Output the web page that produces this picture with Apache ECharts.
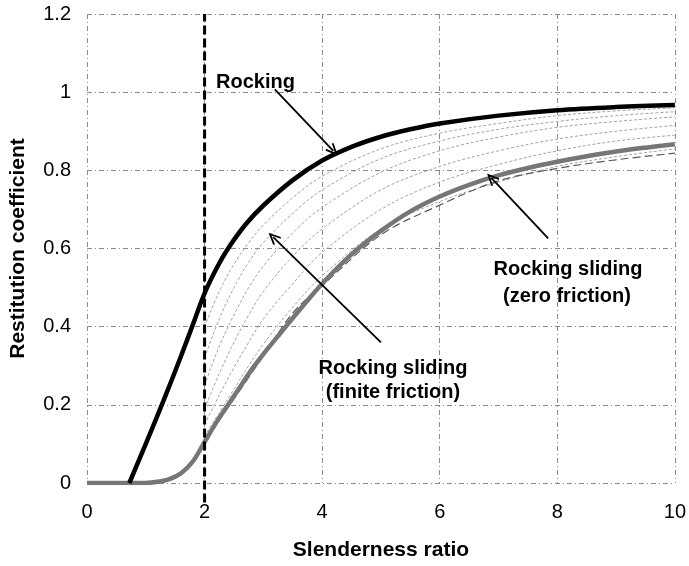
<!DOCTYPE html>
<html>
<head>
<meta charset="utf-8">
<script src="https://cdn.jsdelivr.net/npm/echarts@6/dist/echarts.min.js"></script>
<style>
  html, body { margin: 0; padding: 0; background: #fff; }
  #chart { width: 689px; height: 566px; }
</style>
</head>
<body>
<div id="chart"></div>
<script>
// Axis ticks
const xTicks = [0, 2, 4, 6, 8, 10];
const yTicks = [0, 0.2, 0.4, 0.6, 0.8, 1, 1.2];

// Pure rocking
const rockingX = [0.72, 1.0, 1.3, 1.6, 1.8, 2.0, 2.2, 2.4, 2.7, 3.0, 3.5, 4.0, 4.5, 5.0, 5.5, 6.0, 7.0, 8.0, 9.0, 10.0];
const rockingY = [0, 0.10, 0.21, 0.325, 0.405, 0.485, 0.548, 0.600, 0.662, 0.710, 0.775, 0.825, 0.860, 0.886, 0.905, 0.920, 0.940, 0.954, 0.962, 0.967];

// Rocking sliding, zero friction
const zeroX = [0, 1.0, 1.2, 1.4, 1.6, 1.8, 2.0, 2.2, 2.4, 2.6, 2.8, 3.0, 3.3, 3.6, 4.0, 4.5, 5.0, 5.5, 6.0, 6.5, 7.0, 7.5, 8.0, 8.5, 9.0, 9.5, 10.0];
const zeroY = [0, 0, 0.003, 0.010, 0.025, 0.055, 0.105, 0.155, 0.200, 0.245, 0.290, 0.330, 0.385, 0.440, 0.510, 0.585, 0.645, 0.695, 0.733, 0.763, 0.787, 0.806, 0.822, 0.836, 0.848, 0.858, 0.867];

// Rocking sliding, finite friction (one curve per friction coefficient)
const finiteX = [2.0, 2.25, 2.5, 2.75, 3.0, 3.5, 4.0, 5.0, 6.0, 7.0, 8.0, 9.0, 10.0];
const finite1 = [0.40, 0.49, 0.56, 0.615, 0.66, 0.73, 0.785, 0.855, 0.895, 0.920, 0.940, 0.952, 0.960];
const finite2 = [0.32, 0.42, 0.50, 0.565, 0.615, 0.69, 0.750, 0.830, 0.875, 0.905, 0.925, 0.940, 0.950];
const finite3 = [0.25, 0.35, 0.43, 0.50, 0.555, 0.64, 0.705, 0.795, 0.850, 0.885, 0.910, 0.925, 0.937];
const finite4 = [0.19, 0.28, 0.36, 0.43, 0.49, 0.58, 0.650, 0.750, 0.810, 0.850, 0.880, 0.900, 0.915];
const finite5 = [0.15, 0.225, 0.295, 0.36, 0.42, 0.51, 0.590, 0.700, 0.770, 0.815, 0.850, 0.875, 0.890];
const finite6 = [0.12, 0.18, 0.24, 0.30, 0.355, 0.45, 0.530, 0.650, 0.720, 0.770, 0.810, 0.835, 0.855];
const finite7 = [0.105, 0.16, 0.215, 0.27, 0.325, 0.435, 0.505, 0.635, 0.711, 0.773, 0.805, 0.827, 0.844];

// Limit slenderness marker
const limitX = [2, 2];
const limitY = [-0.05, 1.2];

// Annotation arrows: [fromX, fromY, toX, toY]
const arrowRocking = [3.195, 1.007, 4.19, 0.850];
const arrowFinite = [5.0, 0.36, 3.167, 0.629];
const arrowZero = [7.845, 0.626, 6.881, 0.780];

const pairs = (xs, ys) => xs.map((x, i) => [x, ys[i]]);
const FONT = '"Liberation Sans", Arial, Helvetica, sans-serif';
const chevron = 'path://M6,0 L12,12 L10.4,13.2 L6,4.2 L1.6,13.2 L0,12 Z';
const SMOOTH = 0.35;

const arrowLine = a => [
  { coord: [a[0], a[1]] },
  { coord: [a[2], a[3]] }
];

const finiteSeries = [finite1, finite2, finite3, finite4, finite5, finite6].map((ys, i) => ({
  name: 'finite' + (i + 1),
  type: 'line',
  data: pairs(finiteX, ys),
  smooth: SMOOTH,
  showSymbol: false,
  silent: true,
  z: 2,
  lineStyle: { color: '#a3a3a3', width: 1, type: [3, 2] }
}));

const chart = echarts.init(document.getElementById('chart'), null, { renderer: 'canvas' });

chart.setOption({
  animation: false,
  backgroundColor: '#ffffff',
  grid: { left: 86, right: 12, top: 14, bottom: 83, containLabel: false },
  xAxis: {
    type: 'value',
    min: xTicks[0],
    max: xTicks[xTicks.length - 1],
    interval: xTicks[1] - xTicks[0],
    name: 'Slenderness ratio',
    nameLocation: 'middle',
    nameGap: 57,
    nameTextStyle: { fontFamily: FONT, fontSize: 21, fontWeight: 'bold', color: '#000' },
    axisLine: { show: false },
    axisTick: { show: false },
    axisLabel: { fontFamily: FONT, fontSize: 20, color: '#000', margin: 19 },
    splitLine: { show: true, lineStyle: { color: '#8a8a8a', width: 1, type: [5, 3, 1, 3] } }
  },
  yAxis: {
    type: 'value',
    min: yTicks[0],
    max: yTicks[yTicks.length - 1],
    interval: 0.2,
    name: 'Restitution coefficient',
    nameLocation: 'middle',
    nameGap: 58,
    nameTextStyle: { fontFamily: FONT, fontSize: 21, fontWeight: 'bold', color: '#000' },
    axisLine: { show: false },
    axisTick: { show: false },
    axisLabel: {
      fontFamily: FONT, fontSize: 20, color: '#000', margin: 16,
      formatter: v => String(Math.round(v * 10) / 10)
    },
    splitLine: { show: true, lineStyle: { color: '#8a8a8a', width: 1, type: [5, 3, 1, 3] } }
  },
  series: [
    ...finiteSeries,
    {
      name: 'finite7',
      type: 'line',
      data: pairs(finiteX, finite7),
      smooth: SMOOTH,
      showSymbol: false,
      silent: true,
      z: 2,
      lineStyle: { color: '#5a5a5a', width: 1.2, type: [8, 4] }
    },
    {
      name: 'Rocking sliding (zero friction)',
      type: 'line',
      data: pairs(zeroX, zeroY),
      smooth: SMOOTH,
      showSymbol: false,
      silent: true,
      z: 3,
      lineStyle: { color: '#767676', width: 4.5 }
    },
    {
      name: 'Rocking',
      type: 'line',
      data: pairs(rockingX, rockingY),
      smooth: SMOOTH,
      showSymbol: false,
      silent: true,
      z: 4,
      lineStyle: { color: '#000', width: 4.5 },
      markLine: {
        silent: true,
        symbol: ['none', chevron],
        symbolSize: [11, 13],
        label: { show: false },
        emphasis: { disabled: true },
        lineStyle: { color: '#000', width: 1.8, type: 'solid' },
        data: [arrowLine(arrowRocking), arrowLine(arrowFinite), arrowLine(arrowZero)]
      }
    },
    {
      name: 'limit',
      type: 'line',
      data: pairs(limitX, limitY),
      clip: false,
      showSymbol: false,
      silent: true,
      z: 5,
      lineStyle: { color: '#000', width: 3, type: [9, 4] }
    }
  ],
  graphic: [
    { type: 'text', x: 216, y: 82, z: 10,
      style: { text: 'Rocking', font: 'bold 20px ' + FONT, fill: '#000',
               textAlign: 'left', textVerticalAlign: 'middle', align: 'left', verticalAlign: 'middle' } },
    { type: 'text', x: 568, y: 269, z: 10,
      style: { text: 'Rocking sliding', font: 'bold 20px ' + FONT, fill: '#000',
               textAlign: 'center', textVerticalAlign: 'middle', align: 'center', verticalAlign: 'middle' } },
    { type: 'text', x: 567, y: 296, z: 10,
      style: { text: '(zero friction)', font: 'bold 20px ' + FONT, fill: '#000',
               textAlign: 'center', textVerticalAlign: 'middle', align: 'center', verticalAlign: 'middle' } },
    { type: 'text', x: 393, y: 368, z: 10,
      style: { text: 'Rocking sliding', font: 'bold 20px ' + FONT, fill: '#000',
               textAlign: 'center', textVerticalAlign: 'middle', align: 'center', verticalAlign: 'middle' } },
    { type: 'text', x: 393, y: 392, z: 10,
      style: { text: '(finite friction)', font: 'bold 20px ' + FONT, fill: '#000',
               textAlign: 'center', textVerticalAlign: 'middle', align: 'center', verticalAlign: 'middle' } }
  ]
});
</script>
</body>
</html>
